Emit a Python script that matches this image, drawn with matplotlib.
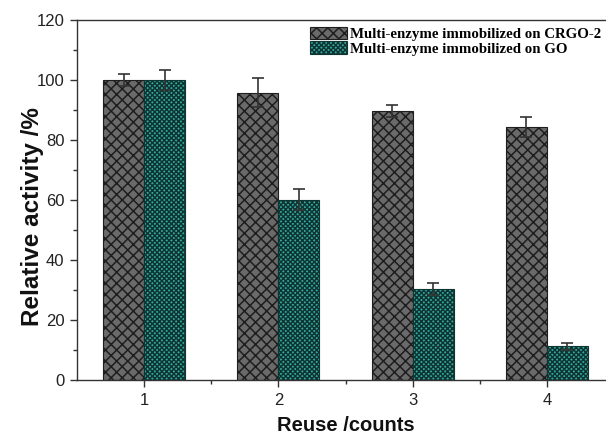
import matplotlib
matplotlib.use("Agg")
import matplotlib.pyplot as plt
import numpy as np

reuse = [1, 2, 3, 4]
crgo_vals = [100.0, 95.8, 89.5, 84.3]
crgo_err = [2.0, 4.7, 2.0, 3.3]
go_vals = [100.0, 60.0, 30.3, 11.2]
go_err = [3.4, 3.5, 2.0, 1.2]
labels = ["Multi-enzyme immobilized on CRGO-2", "Multi-enzyme immobilized on GO"]

plt.rcParams['hatch.linewidth'] = 1.1
fig = plt.figure(figsize=(6.06, 4.36), dpi=100)
W, H = 606, 436
left, right, top, bottom = 77, 614, 20, 380
ax = fig.add_axes([left / W, 1 - bottom / H, (right - left) / W, (bottom - top) / H])

x = np.array(reuse, dtype=float)
w = 0.305
ax.bar(x - w / 2, crgo_vals, width=w, color='#6a6a6a', edgecolor='#1e1e1e',
       hatch='xxx', linewidth=0.8, label=labels[0], zorder=2)
ax.bar(x + w / 2, go_vals, width=w, color='#33aaa2', edgecolor='#0f3533',
       hatch='xxxxxxx', linewidth=0.8, label=labels[1], zorder=2)
ax.errorbar(x - w / 2, crgo_vals, yerr=crgo_err, fmt='none', ecolor='#333333',
            elinewidth=1.2, capsize=4, capthick=1.2, zorder=3)
ax.errorbar(x + w / 2, go_vals, yerr=go_err, fmt='none', ecolor='#333333',
            elinewidth=1.2, capsize=4, capthick=1.2, zorder=3)

ax.set_xlim(0.5, 4.5)
ax.set_ylim(0, 120)
ax.set_xticks(reuse)
ax.set_xticks([1.5, 2.5, 3.5], minor=True)
ax.set_yticks(np.arange(0, 121, 20))
ax.set_yticks(np.arange(10, 120, 20), minor=True)
ax.tick_params(axis='both', which='major', direction='out', length=5, width=1,
               labelsize=12, pad=4, colors='#333333', labelcolor='#222222')
ax.tick_params(axis='both', which='minor', direction='out', length=3, width=1,
               colors='#333333')
for lab in ax.get_xticklabels() + ax.get_yticklabels():
    lab.set_family('Liberation Sans')

for s in ['left', 'bottom', 'top']:
    ax.spines[s].set_color('#333333')
    ax.spines[s].set_linewidth(1.0)
ax.spines['right'].set_visible(False)

ax.set_ylabel('Relative activity /%', fontsize=17.5, fontweight='bold',
              family='Liberation Sans', color='#111111')
ax.yaxis.set_label_coords((44 - left) / (right - left), (bottom - 217) / (bottom - top))
ax.set_xlabel('Reuse /counts', fontsize=14.5, fontweight='bold',
              family='Liberation Sans', labelpad=6, color='#111111')

leg = ax.legend(loc='upper left', bbox_to_anchor=((310 - left) / (right - left), (bottom - 27) / (bottom - top)),
                frameon=False, prop={'family': 'Liberation Serif', 'weight': 'bold', 'size': 10.7},
                handlelength=2.5, handleheight=0.9, handletextpad=0.2, labelspacing=0.0,
                borderaxespad=0.0, borderpad=0.0)

fig.savefig('out.png', dpi=100)
